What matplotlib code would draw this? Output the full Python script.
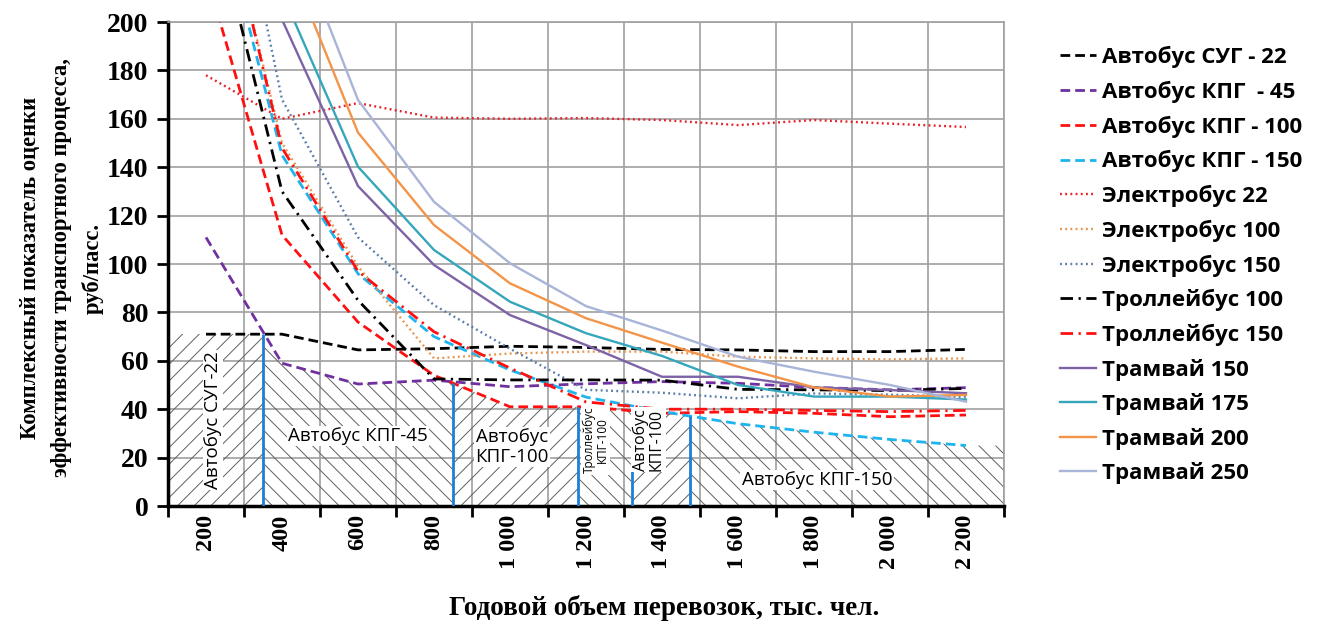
import numpy as np
import matplotlib
matplotlib.use("Agg")
import matplotlib.pyplot as plt

nan = np.nan
# ---------------- data ----------------
categories = [200, 400, 600, 800, 1000, 1200, 1400, 1600, 1800, 2000, 2200]
cat_labels = ["200", "400", "600", "800", "1 000", "1 200", "1 400", "1 600", "1 800", "2 000", "2 200"]

bus_sug22 = [71, 71, 64.5, 65, 66, 65.5, 64.7, 64.5, 63.8, 63.8, 64.7]
bus_kpg45 = [111, 59, 50.4, 52, 49.3, 50.5, 51.4, 50.7, 49, 48, 48.9]
bus_kpg100 = [220, 112, 76, 54, 41, 41, 38.3, 39, 38.3, 36.9, 37.6]
bus_kpg150 = [267, 145, 96, 70, 56.2, 45, 39, 34, 30.5, 27.5, 25]
ebus22 = [178, 160, 166.5, 160.5, 160, 160.3, 159.5, 157.4, 159.5, 158, 156.6]
ebus100 = [280, 150, 99, 61, 63, 63.8, 63.8, 61.7, 61, 60.6, 61]
ebus150 = [320, 168, 111, 83, 65, 48, 46.8, 44.5, 46.5, 46, 45]
troll100 = [257, 130, 85, 52.5, 52.1, 52.1, 52, 48.2, 48, 47.7, 48.6]
troll150 = [280, 148, 97, 72, 57, 43, 40, 40, 39.5, 39, 39.5]
tram150 = [nan, 201, 132.2, 99.6, 78.9, 66.5, 53.4, 53.4, 49, 47.9, 46.6]
tram175 = [nan, 212, 140.2, 105.8, 84.4, 71.4, 62, 50, 45.2, 45.2, 44]
tram200 = [nan, 232, 154.3, 116.1, 92, 77.6, 67.5, 57.6, 49, 45.2, 45.9]
tram250 = [nan, 248, 167.8, 125.7, 100.3, 82.6, 72.5, 61.7, 55.5, 50, 43.1]

series_labels = ["Автобус СУГ - 22", "Автобус КПГ  - 45", "Автобус КПГ - 100", "Автобус КПГ - 150",
                 "Электробус 22", "Электробус 100", "Электробус 150",
                 "Троллейбус 100", "Троллейбус 150",
                 "Трамвай 150", "Трамвай 175", "Трамвай 200", "Трамвай 250"]
series_values = [bus_sug22, bus_kpg45, bus_kpg100, bus_kpg150, ebus22, ebus100, ebus150,
                 troll100, troll150, tram150, tram175, tram200, tram250]

# zones of the most effective mode (boundaries in thousand passengers)
zone_bounds = [350, 850, 1180, 1320, 1475]
zone_names = ["Автобус СУГ-22", "Автобус КПГ-45", "Автобус\nКПГ-100", "Троллейбус\nКПГ-100",
              "Автобус\nКПГ-100", "Автобус КПГ-150"]

# ---------------- styles ----------------
DASH = (0, (3.5, 1.8))
DOT = (0, (0.8, 1.4))
DASHDOT = (0, (4.5, 2.0, 0.8, 2.0))
styles = [
    dict(color="black", ls=DASH, lw=2.0),
    dict(color="#7030A0", ls=DASH, lw=2.0),
    dict(color="#FF1010", ls=DASH, lw=2.0),
    dict(color="#1EB4EE", ls=DASH, lw=2.0),
    dict(color="#E8202A", ls=DOT, lw=1.7),
    dict(color="#E8954F", ls=DOT, lw=1.7),
    dict(color="#5A7DAA", ls=DOT, lw=1.7),
    dict(color="black", ls=DASHDOT, lw=2.0),
    dict(color="#FF1010", ls=DASHDOT, lw=2.0),
    dict(color="#7E62A6", ls="-", lw=1.7),
    dict(color="#35A6BC", ls="-", lw=1.7),
    dict(color="#F39448", ls="-", lw=1.7),
    dict(color="#A8B4D8", ls="-", lw=1.7),
]

plt.rcParams["hatch.color"] = "#606060"
plt.rcParams["hatch.linewidth"] = 0.7

fig = plt.figure(figsize=(13.18, 6.28), dpi=100)
ax = fig.add_axes([168 / 1318, 1 - 506 / 628, (1004 - 168) / 1318, (506 - 22) / 628])

x = np.arange(len(categories))

# lower envelope of all curves -> zones
xs = np.linspace(-0.5, len(categories) - 0.5, 2201)
curves = []
for vals in series_values:
    v = np.array(vals, dtype=float)
    ok = ~np.isnan(v)
    curves.append(np.interp(xs, x[ok], v[ok]))
env = np.min(np.vstack(curves), axis=0)

cat_step = categories[1] - categories[0]
bpos = [(b - categories[0]) / cat_step for b in zone_bounds]
edges = [-0.5] + bpos + [len(categories) - 0.5]
hatches = ["//", "\\\\", "//", "\\\\", "//", "\\\\"]
for i in range(len(edges) - 1):
    m = (xs >= edges[i]) & (xs <= edges[i + 1])
    ax.fill_between(xs[m], 0, env[m], facecolor="none", edgecolor="#606060",
                    hatch=hatches[i], linewidth=0, zorder=1)
env_at_b = np.interp(bpos, xs, env)
ax.vlines(bpos, 0, env_at_b, color="#1E7FD6", lw=2, zorder=4)

# curves
for vals, lab, st in zip(series_values, series_labels, styles):
    ax.plot(x, vals, label=lab, zorder=3, **st)

# zone labels
zfont = dict(family=["Open Sans", "DejaVu Sans"], color="black", zorder=5)
bb = dict(facecolor="white", edgecolor="none", pad=1.0)
ax.text(0.09, 35.5, zone_names[0], rotation=90, ha="center", va="center", fontsize=13.5, bbox=bb, **zfont)
ax.text(2.0, 28.9, zone_names[1], ha="center", va="center", fontsize=13.5, bbox=bb, **zfont)
ax.text(4.03, 24.4, zone_names[2], ha="center", va="center", fontsize=13.5, linespacing=1.1, bbox=bb, **zfont)
ax.text(5.13, 27.3, zone_names[3], rotation=90, ha="center", va="center", fontsize=8.5, linespacing=1.0, bbox=bb, **zfont)
ax.text(5.82, 27.3, zone_names[4], rotation=90, ha="center", va="center", fontsize=11.5, linespacing=1.0, bbox=bb, **zfont)
ax.text(8.04, 10.7, zone_names[5], ha="center", va="center", fontsize=13.5, bbox=bb, **zfont)

# axes
ax.set_xlim(-0.5, len(categories) - 0.5)
ax.set_ylim(0, 200)
ax.set_yticks(np.arange(0, 201, 20))
ax.set_xticks(np.arange(-0.5, len(categories), 1.0))
ax.set_xticklabels([])
ax.set_xticks(x, minor=True)
ax.set_xticklabels(cat_labels, minor=True, rotation=90, va="top", ha="center")
ax.tick_params(axis="x", which="minor", length=0, pad=6)
ax.tick_params(axis="x", which="major", length=8, width=2, direction="out")
ax.tick_params(axis="y", length=8, width=2, direction="out", pad=6)
serif = ["Liberation Serif", "DejaVu Serif"]
for t in ax.get_yticklabels():
    t.set_family(serif); t.set_fontweight("bold"); t.set_fontsize(20)
for t in ax.get_xticklabels(minor=True):
    t.set_family(serif); t.set_fontweight("bold"); t.set_fontsize(17.5)

ax.grid(True, which="major", color="#A0A0A0", lw=1.2)
ax.set_axisbelow(True)
for s in ["left", "bottom"]:
    ax.spines[s].set_linewidth(2.5)
    ax.spines[s].set_color("black")
for s in ["top", "right"]:
    ax.spines[s].set_linewidth(1.2)
    ax.spines[s].set_color("#A0A0A0")

fig.text(62 / 1318, 1 - 268 / 628,
         "Комплексный показатель оценки\nэффективности транспортного процесса,\nруб/пасс.",
         rotation=90, ha="center", va="center", multialignment="center",
         family=serif, fontweight="bold", fontsize=16.3, linespacing=1.6)
fig.text(664 / 1318, 1 - 608 / 628, "Годовой объем перевозок, тыс. чел.",
         ha="center", va="center", family=serif, fontweight="bold", fontsize=19.5)

handles, labels = ax.get_legend_handles_labels()
leg = fig.legend(handles, labels, loc="upper left", bbox_to_anchor=(1060 / 1318, 1 - 46 / 628),
                 frameon=False, prop=dict(family=["Open Sans", "DejaVu Sans"], weight="bold", size=16),
                 handlelength=1.6, handletextpad=0.3, labelspacing=0.565, borderaxespad=0, borderpad=0)

fig.savefig("out.png", dpi=100)
